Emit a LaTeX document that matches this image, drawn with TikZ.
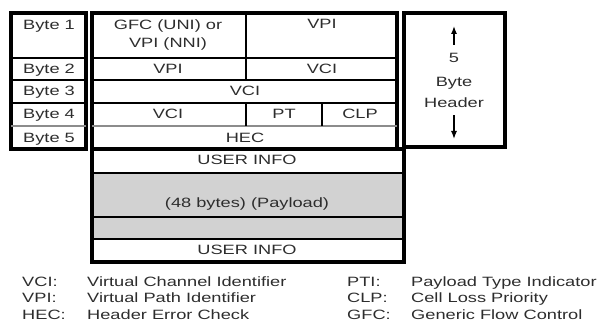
\documentclass[tikz,border=0pt]{standalone}
\usepackage{fontspec}
\setmainfont{Liberation Sans}[FakeStretch=1.35]
\usepackage{tikz}
\usetikzlibrary{arrows.meta}
\definecolor{atm-text}{RGB}{45,45,45}
\definecolor{atm-gray}{RGB}{210,210,210}

\begin{document}
\begin{tikzpicture}[x=1pt, y=-1pt, font=\fontsize{13.5}{16}\selectfont,
    box/.style={line width=3.2pt},
    thinsep/.style={line width=1.2pt},
    boldsep/.style={line width=2.4pt},
    graysep/.style={line width=1.8pt, draw=black!45},
    txt/.style={inner sep=0pt, text=atm-text, text height=9.7pt, text depth=0pt},
    sizearrow/.style={-{Latex[length=8pt,width=6pt]}, line width=1.3pt}]
            \useasboundingbox (0,0) rectangle (606,334);

            % Byte column
            \draw[box] (11,13) rectangle (86,149);
            \draw[boldsep] (11,58) -- (86,58);
            \draw[boldsep] (11,80) -- (86,80);
            \draw[thinsep] (11,103) -- (86,103);
            \draw[graysep] (11,126) -- (86,126);
            \node[txt] (byte1) at (49,25) {Byte 1};
            \node[txt] (byte2) at (49,69) {Byte 2};
            \node[txt] (byte3) at (49,91) {Byte 3};
            \node[txt] (byte4) at (49,114) {Byte 4};
            \node[txt] (byte5) at (49,138) {Byte 5};

            % Header fields
            \draw[box] (92,13) rectangle (397,149);
            \draw[thinsep] (92,58) -- (397,58);
            \draw[boldsep] (92,80) -- (397,80);
            \draw[thinsep] (92,103) -- (397,103);
            \draw[graysep] (92,126) -- (397,126);
            \draw[thinsep] (246,13) -- (246,80);
            \draw[thinsep] (246,103) -- (246,126);
            \draw[thinsep] (322,103) -- (322,126);
            \node[txt] (gfc) at (168,25) {GFC (UNI) or};
            \node[txt] (nni) at (168,43) {VPI (NNI)};
            \node[txt] (vpitop) at (322,24) {VPI};
            \node[txt] (vpi) at (168,69) {VPI};
            \node[txt] (vcitop) at (322,69) {VCI};
            \node[txt] (vcimid) at (245,91) {VCI};
            \node[txt] (vci) at (168,114) {VCI};
            \node[txt] (pt) at (284,114) {PT};
            \node[txt] (clp) at (360,114) {CLP};
            \node[txt] (hec) at (245,138) {HEC};

            % Header size box
            \draw[box] (404,13) rectangle (505,147);
            \node[txt] (five) at (454,58) {5};
            \node[txt] (bytes) at (454,82) {Byte};
            \node[txt] (header) at (454,103) {Header};
            \coordinate (uptip) at (454,26);
            \coordinate (downtip) at (454,139);
            \draw[sizearrow] ([yshift=8pt]five.north) -- (uptip);
            \draw[sizearrow] ([yshift=-7pt]header.south) -- (downtip);

            % Payload
            \fill[atm-gray] (92,173) rectangle (404,239);
            \draw[thinsep] (92,173) -- (404,173);
            \draw[thinsep] (92,217) -- (404,217);
            \draw[thinsep] (92,239) -- (404,239);
            \draw[box] (92,149) rectangle (404,262);
            \node[txt] (info1) at (247,160) {USER INFO};
            \node[txt] (payload) at (247,203) {(48 bytes) (Payload)};
            \node[txt] (info2) at (247,250) {USER INFO};

            % Legend
            \node[txt, anchor=west] (kvci) at (22,282) {VCI:};
            \node[txt, anchor=west] (kvpi) at (22,298) {VPI:};
            \node[txt, anchor=west] (khec) at (22,315) {HEC:};
            \node[txt, anchor=west] (dvci) at (87,282) {Virtual Channel Identifier};
            \node[txt, anchor=west] (dvpi) at (87,298) {Virtual Path Identifier};
            \node[txt, anchor=west] (dhec) at (87,315) {Header Error Check};
            \node[txt, anchor=west] (kpti) at (347,282) {PTI:};
            \node[txt, anchor=west] (kclp) at (347,298) {CLP:};
            \node[txt, anchor=west] (kgfc) at (347,315) {GFC:};
            \node[txt, anchor=west] (dpti) at (411,282) {Payload Type Indicator};
            \node[txt, anchor=west] (dclp) at (411,298) {Cell Loss Priority};
            \node[txt, anchor=west] (dgfc) at (411,315) {Generic Flow Control};
        \end{tikzpicture}
\end{document}
